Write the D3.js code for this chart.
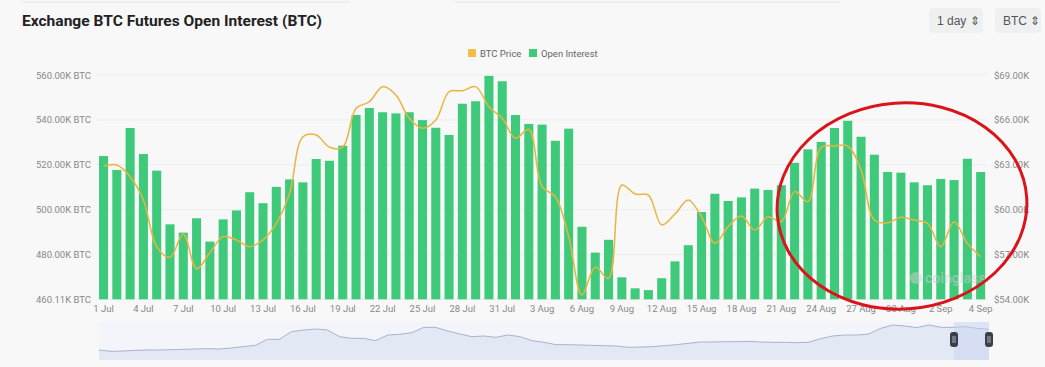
<!DOCTYPE html>
<html><head><meta charset="utf-8">
<script src="https://cdn.jsdelivr.net/npm/d3@7"></script>
<style>body{margin:0;background:#f8f8f8;}svg{display:block;font-family:Roboto,"Noto Sans",sans-serif}</style>
</head><body><svg id="c" width="1045" height="367"></svg>
<script>
const dates = ["1 Jul","2 Jul","3 Jul","4 Jul","5 Jul","6 Jul","7 Jul","8 Jul","9 Jul","10 Jul","11 Jul","12 Jul","13 Jul","14 Jul","15 Jul","16 Jul","17 Jul","18 Jul","19 Jul","20 Jul","21 Jul","22 Jul","23 Jul","24 Jul","25 Jul","26 Jul","27 Jul","28 Jul","29 Jul","30 Jul","31 Jul",
"1 Aug","2 Aug","3 Aug","4 Aug","5 Aug","6 Aug","7 Aug","8 Aug","9 Aug","10 Aug","11 Aug","12 Aug","13 Aug","14 Aug","15 Aug","16 Aug","17 Aug","18 Aug","19 Aug","20 Aug","21 Aug","22 Aug","23 Aug","24 Aug","25 Aug","26 Aug","27 Aug","28 Aug","29 Aug","30 Aug","31 Aug",
"1 Sep","2 Sep","3 Sep","4 Sep","5 Sep"];
// Open interest, thousands of BTC
const openInterest = [523.9,517.7,536.4,524.8,517.4,493.5,489.8,496.2,485.8,495.7,499.7,507.8,502.9,510.2,513.5,512.2,522.6,521.8,528.5,542.2,545.3,543.4,542.9,543.4,539.9,536.5,533.3,547.2,548.3,559.6,557.2,542.2,538.2,537.9,530.7,536.1,492.4,480.9,486.6,469.9,465.0,464.2,469.5,477.0,484.2,499.0,507.1,503.9,505.5,509.4,508.8,510.9,520.9,526.9,530.2,536.4,539.6,532.5,524.5,516.8,516.5,512.2,510.9,513.7,513.2,522.7,516.8];
// BTC price, thousands of USD
const btcPrice = [62.91,62.98,62.2,60.64,57.52,56.81,58.37,56.03,57.12,58.19,57.97,57.52,57.97,59.08,61.09,64.87,64.99,64.17,64.17,66.77,67.21,68.22,67.66,66.1,65.44,65.99,67.88,67.95,68.22,66.88,66.1,64.77,65.37,61.53,60.86,58.19,54.29,56.14,55.4,61.64,61.04,60.97,58.97,59.7,60.64,59.52,57.74,58.86,59.57,58.63,59.52,59.19,61.2,60.53,64.17,64.25,64.25,62.65,59.3,59.12,59.48,59.3,59.08,57.52,59.19,57.74,56.85];
const leftTicks = [460.11,480,500,520,540,560];
const rightTicks = [54,57,60,63,66,69];
const xTickLabels = ["1 Jul","4 Jul","7 Jul","10 Jul","13 Jul","16 Jul","19 Jul","22 Jul","25 Jul","28 Jul","31 Jul","3 Aug","6 Aug","9 Aug","12 Aug","15 Aug","18 Aug","21 Aug","24 Aug","27 Aug","30 Aug","2 Sep","4 Sep"];
const navigatorValues = [30,26,27,29,30,30,31,32,33,34,33,36,40,44,62,62,85,90,93,90,70,65,65,58,75,77,82,98,98,87,78,70,72,68,75,70,58,53,46,46,45,44,43,42,38,39,40,43,46,50,54,54,55,55,56,54,53,53,52,53,64,72,75,75,78,95,105,102,97,105,98,98,100,95,92];

const svg = d3.select("#c");
// top card edge
svg.append("line").attr("x1",22).attr("x2",350).attr("y1",2).attr("y2",2).attr("stroke","#e6e6e6");
svg.append("line").attr("x1",455).attr("x2",840).attr("y1",2).attr("y2",2).attr("stroke","#e6e6e6");
svg.append("text").attr("x",22).attr("y",26).text("Exchange BTC Futures Open Interest (BTC)")
  .attr("font-family","Roboto,'Liberation Sans',sans-serif").attr("font-weight","bold").attr("font-size",15.5)
  .attr("textLength",300).attr("lengthAdjust","spacingAndGlyphs").attr("fill","#222");
// buttons
[[929,54,"1 day"],[995,46,"BTC"]].forEach(([x,w,t])=>{
  svg.append("rect").attr("x",x).attr("y",8).attr("width",w).attr("height",25).attr("rx",4).attr("fill","#eef0f2");
  svg.append("text").attr("x",x+8).attr("y",25).text(t+" \u21D5").attr("font-size",12).attr("fill","#555")
   .attr("font-family","'Liberation Sans',Arial,sans-serif");
});

const x = d3.scaleBand().domain(d3.range(dates.length)).range([96.9,987.3]).paddingInner(0.32).paddingOuter(0.16);
const yL = d3.scaleLinear().domain([460.11,560]).range([299.3,75]);
const yR = d3.scaleLinear().domain([54,69]).range([299.3,75]);

// grid
svg.append("g").selectAll("line").data(leftTicks).join("line")
  .attr("x1",97).attr("x2",987).attr("y1",d=>yL(d)).attr("y2",d=>yL(d)).attr("stroke","#ececec");

// left axis
const axL = d3.axisLeft(yL).tickValues(leftTicks).tickSize(0).tickPadding(0).tickFormat(d=>d.toFixed(2)+"K BTC");
const gL = svg.append("g").attr("transform","translate(91,0)").call(axL);
gL.select(".domain").remove();
gL.selectAll("text").attr("font-size",9.5).attr("fill","#888").attr("font-family","Roboto,sans-serif");
// right axis
const axR = d3.axisRight(yR).tickValues(rightTicks).tickSize(0).tickPadding(0).tickFormat(d=>"$"+d.toFixed(2)+"K");
const gR = svg.append("g").attr("transform","translate(994,0)").call(axR);
gR.select(".domain").remove();
gR.selectAll("text").attr("font-size",9.5).attr("fill","#888").attr("font-family","Roboto,sans-serif");

// bars
svg.append("g").selectAll("rect").data(openInterest).join("rect")
  .attr("x",(d,i)=>x(i)).attr("width",x.bandwidth())
  .attr("y",d=>yL(d)).attr("height",d=>yL(460.11)-yL(d)).attr("fill","#3ec97b");

// x axis labels
const tickIdx = xTickLabels.map((t,k)=>k*3);
const axX = d3.axisBottom(x).tickValues(tickIdx).tickSize(0).tickPadding(0).tickFormat((d,k)=>xTickLabels[k]);
const gX = svg.append("g").attr("transform","translate(0,305)").call(axX);
gX.select(".domain").remove();
gX.selectAll("text").attr("font-size",9.5).attr("fill","#888").attr("font-family","Roboto,sans-serif");

// watermark
svg.append("text").attr("x",925).attr("y",283).text("coinglass").attr("font-size",14).attr("font-weight","bold").attr("fill","#cfcfcf").attr("opacity",0.5);
svg.append("circle").attr("cx",916).attr("cy",278).attr("r",6).attr("fill","#cfcfcf").attr("opacity",0.5);

// price line
const line = d3.line().x((d,i)=>x(i)+x.bandwidth()/2).y(d=>yR(d)).curve(d3.curveCatmullRom.alpha(0.5));
svg.append("path").datum(btcPrice).attr("d",line).attr("fill","none").attr("stroke","#e8b53f").attr("stroke-width",1.5);

// legend
const lg = svg.append("g").attr("font-size",9.5).attr("fill","#666");
lg.append("rect").attr("x",468).attr("y",49).attr("width",8).attr("height",8).attr("fill","#f0c04a");
lg.append("text").attr("x",480).attr("y",56.5).text("BTC Price").attr("fill","#666");
lg.append("rect").attr("x",529).attr("y",49).attr("width",8).attr("height",8).attr("fill","#3ec97b");
lg.append("text").attr("x",541).attr("y",56.5).text("Open Interest").attr("fill","#666");

// navigator
const nx = d3.scaleLinear().domain([0,navigatorValues.length-1]).range([99,989]);
const ny = d3.scaleLinear().domain([0,150]).range([360,310]);
svg.append("rect").attr("x",99).attr("y",322).attr("width",890).attr("height",38).attr("fill","#f3f5fa");
svg.append("path").datum(navigatorValues).attr("d",d3.area().x((d,i)=>nx(i)).y0(360).y1(d=>ny(d))).attr("fill","#e3e8f5");
svg.append("path").datum(navigatorValues).attr("d",d3.line().x((d,i)=>nx(i)).y(d=>ny(d))).attr("fill","none").attr("stroke","#a9b3cc").attr("stroke-width",1);
svg.append("rect").attr("x",954).attr("y",322).attr("width",35).attr("height",38).attr("fill","#c8d4f0").attr("opacity",0.5);
[954,989].forEach(hx=>{
  svg.append("rect").attr("x",hx-4).attr("y",332).attr("width",8).attr("height",15).attr("rx",3).attr("fill","#3a3f4a");
  svg.append("line").attr("x1",hx-1).attr("x2",hx-1).attr("y1",336).attr("y2",343).attr("stroke","#ccc").attr("stroke-width",0.8);
  svg.append("line").attr("x1",hx+1).attr("x2",hx+1).attr("y1",336).attr("y2",343).attr("stroke","#ccc").attr("stroke-width",0.8);
});

// red annotation ellipse
svg.append("ellipse").attr("cx",902).attr("cy",206).attr("rx",125).attr("ry",103)
  .attr("transform","rotate(-4,902,206)").attr("fill","none").attr("stroke","#d9151b").attr("stroke-width",3);
</script></body></html>
